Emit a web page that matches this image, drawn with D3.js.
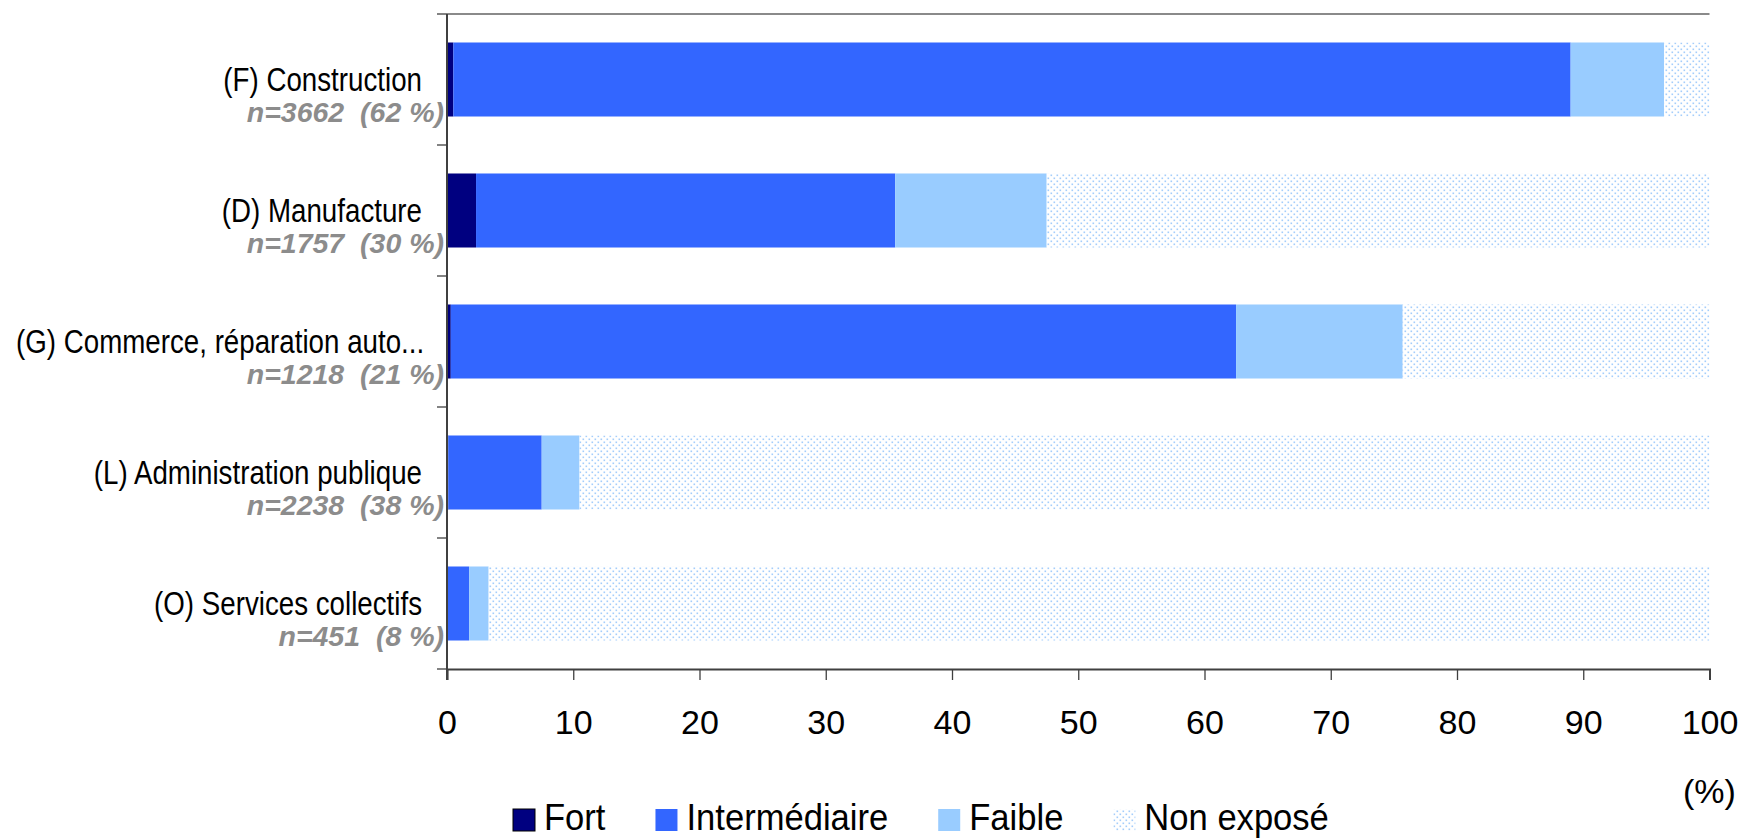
<!DOCTYPE html>
<html>
<head>
<meta charset="utf-8">
<script src="https://cdn.jsdelivr.net/npm/d3@7"></script>
<style>
  body { margin: 0; background: #fff; }
  svg { display: block; }
  text { font-family: "Liberation Sans", Arial, sans-serif; }
</style>
</head>
<body>
<script>
// secteurs et effectifs
var sectors = ["(F) Construction", "(D) Manufacture", "(G) Commerce, réparation auto...",
               "(L) Administration publique", "(O) Services collectifs"];
var counts = ["n=3662  (62 %)", "n=1757  (30 %)", "n=1218  (21 %)", "n=2238  (38 %)", "n=451  (8 %)"];

// niveaux d'exposition (%)
var levels = ["Fort", "Intermédiaire", "Faible", "Non exposé"];
var fort          = [0.5, 2.3, 0.3, 0.1, 0.0];
var intermediaire = [88.5, 33.2, 62.2, 7.4, 1.75];
var faible        = [7.4, 12.0, 13.2, 3.0, 1.55];
var nonExpose     = [3.6, 52.5, 24.3, 89.5, 96.7];

var xTicks = [0, 10, 20, 30, 40, 50, 60, 70, 80, 90, 100];

var W = 1742, H = 839;
var plot = {left: 447, right: 1709.5, top: 14, bottom: 669};
var narrow = 0.84; // pas de police étroite installée : on comprime

var rows = sectors.map(function (s, i) {
    return {sector: s, n: counts[i], "Fort": fort[i], "Intermédiaire": intermediaire[i],
            "Faible": faible[i], "Non exposé": nonExpose[i]};
});

var colors = {"Fort": "#000080", "Intermédiaire": "#3366FF", "Faible": "#99CCFF", "Non exposé": "url(#dots)"};

var svg = d3.select("body").append("svg").attr("width", W).attr("height", H);

var defs = svg.append("defs");
var pat = defs.append("pattern").attr("id", "dots").attr("patternUnits", "userSpaceOnUse")
    .attr("width", 6).attr("height", 6);
pat.append("rect").attr("width", 6).attr("height", 6).attr("fill", "#fff");
pat.append("rect").attr("x", 0.5).attr("y", 0.5).attr("width", 1.6).attr("height", 1.6).attr("fill", "#a4cdfb");
pat.append("rect").attr("x", 3.5).attr("y", 3.5).attr("width", 1.6).attr("height", 1.6).attr("fill", "#a4cdfb");

var x = d3.scaleLinear().domain([0, 100]).range([plot.left, plot.right]);
var y = d3.scaleBand().domain(sectors).range([plot.top, plot.bottom])
    .paddingInner(0.435).paddingOuter(0.2175);

var series = d3.stack().keys(levels)(rows);

svg.append("g").selectAll("g")
    .data(series)
    .enter().append("g")
    .attr("fill", function (d) { return colors[d.key]; })
    .selectAll("rect")
    .data(function (d) { return d; })
    .enter().append("rect")
    .attr("x", function (d) { return x(d[0]); })
    .attr("y", function (d) { return y(d.data.sector); })
    .attr("width", function (d) { return Math.max(0, x(d[1]) - x(d[0])); })
    .attr("height", y.bandwidth());

// bordure haute
svg.append("line")
    .attr("x1", plot.left).attr("x2", plot.right)
    .attr("y1", plot.top).attr("y2", plot.top)
    .attr("stroke", "#8a8a8a").attr("stroke-width", 2);

// axe x
var xAxis = svg.append("g")
    .attr("transform", "translate(0," + plot.bottom + ")")
    .call(d3.axisBottom(x).tickValues(xTicks).tickSize(11).tickPadding(30));
xAxis.attr("font-family", null);
xAxis.select(".domain").attr("stroke", "#404040").attr("stroke-width", 2);
xAxis.selectAll(".tick line").attr("stroke", "#404040").attr("stroke-width", 1.3);
xAxis.selectAll(".tick text").attr("font-size", 34).attr("fill", "#000");

// axe y
var step = y.step();
var bounds = d3.range(sectors.length + 1).map(function (i) { return plot.top + i * step; });
svg.append("line")
    .attr("x1", plot.left).attr("x2", plot.left)
    .attr("y1", plot.top).attr("y2", plot.bottom + 11)
    .attr("stroke", "#404040").attr("stroke-width", 2);
svg.append("g").selectAll("line")
    .data(bounds)
    .enter().append("line")
    .attr("x1", plot.left - 10).attr("x2", plot.left)
    .attr("y1", function (d) { return d; }).attr("y2", function (d) { return d; })
    .attr("stroke", "#404040").attr("stroke-width", 1.3);

// étiquettes des secteurs
var labels = svg.append("g");
labels.selectAll(".cat")
    .data(sectors)
    .enter().append("text")
    .attr("class", "cat")
    .attr("font-size", 33)
    .attr("fill", "#000")
    .attr("text-anchor", function (d) { return d.slice(-3) === "..." ? "start" : "end"; })
    .attr("transform", function (d) {
        var tx = d.slice(-3) === "..." ? 16 : plot.left - 25;
        return "translate(" + tx + "," + (y(d) + y.bandwidth() / 2 + 11) + ") scale(" + narrow + ",1)";
    })
    .text(function (d) { return d; });

labels.selectAll(".cnt")
    .data(sectors)
    .enter().append("text")
    .attr("class", "cnt")
    .attr("font-size", 28.5)
    .attr("font-weight", "bold")
    .attr("font-style", "italic")
    .attr("fill", "#8c8c8c")
    .style("white-space", "pre")
    .attr("x", plot.left - 3)
    .attr("y", function (d) { return y(d) + y.bandwidth() / 2 + 42; })
    .attr("text-anchor", "end")
    .text(function (d, i) { return counts[i]; });

// unité
svg.append("text")
    .attr("font-size", 34)
    .attr("x", x(100))
    .attr("y", 803)
    .attr("text-anchor", "middle")
    .text("(%)");

// légende
var legend = svg.append("g");
var lx = 513;
var legScale = 0.91;
levels.forEach(function (k) {
    legend.append("rect")
        .attr("x", lx).attr("y", 809)
        .attr("width", 22).attr("height", 22)
        .attr("fill", colors[k])
        .attr("stroke", k === "Fort" ? "#000" : "none")
        .attr("stroke-width", 1);
    var t = legend.append("text")
        .attr("font-size", 37)
        .attr("transform", "translate(" + (lx + 31) + ",830) scale(" + (legScale * 38 / 37) + ",1)")
        .text(k);
    lx = lx + 31 + t.node().getComputedTextLength() * legScale * 38 / 37 + 50;
});
</script>
</body>
</html>
